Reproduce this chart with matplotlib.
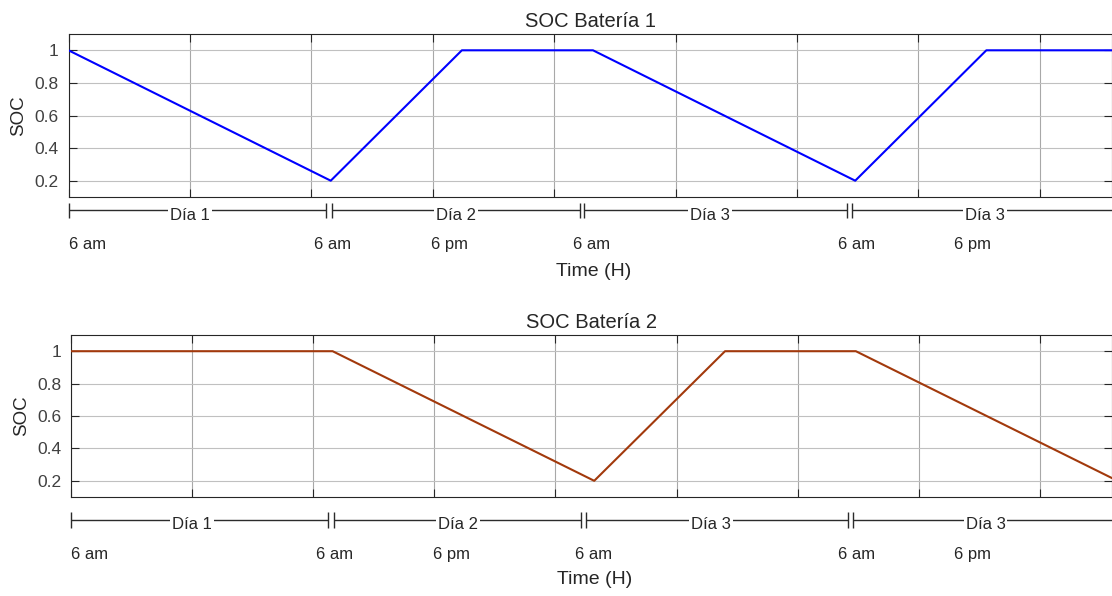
import numpy as np
import matplotlib
matplotlib.use("Agg")
import matplotlib.pyplot as plt
from matplotlib.transforms import blended_transform_factory

plt.rcParams['font.family'] = ['Liberation Sans', 'DejaVu Sans']

# State of charge profiles, time in hours counted from the first 6 am
time_b1 = [0, 24, 36, 48, 72, 84, 96]
soc_b1 = [1.0, 0.2, 1.0, 1.0, 0.2, 1.0, 1.0]
time_b2 = [0, 24, 48, 60, 72, 96]
soc_b2 = [1.0, 1.0, 0.2, 1.0, 1.0, 0.2]

titles = ["SOC Batería 1", "SOC Batería 2"]
line_colors = ["#0000ff", "#a2390c"]

# Day timeline drawn under each panel
day_names = ["Día 1", "Día 2", "Día 3", "Día 3"]
day_spans = [(0.0, 23.55), (24.1, 46.8), (47.2, 71.25), (71.7, 96.0)]
day_name_x = [11.1, 35.5, 58.7, 83.9]
clock_labels = ["6 am", "6 am", "6 pm", "6 am", "6 am", "6 pm"]
clock_x = [1.7, 24.2, 34.9, 47.9, 72.1, 82.7]

yticks = [0.2, 0.4, 0.6, 0.8, 1.0]
ytick_labels = ["0.2", "0.4", "0.6", "0.8", "1"]

X_MAX = 95.5
GRID_STEP = 100 / 9
TEXT = "#262626"

fig = plt.figure(figsize=(11.12, 5.96), dpi=100)
W, H = 1112, 596
ax_boxes = [
    [68.5 / W, 1 - 197 / H, (W - 68.5) / W, 163 / H],
    [71 / W, 1 - 497 / H, (W - 71) / W, 162 / H],
]
# timeline offsets (axes fraction): line, day text, clock text, axis label, tick half height
timeline_y = [
    (-0.080, -0.112, -0.294, -0.454, 0.046),
    (-0.142, -0.172, -0.352, -0.512, 0.049),
]


def draw_timeline(ax, y_line, y_text, y_clock, y_label, half):
    tr = blended_transform_factory(ax.transData, ax.transAxes)
    kw = dict(color="#2b2b2b", lw=1.0, transform=tr, clip_on=False, solid_capstyle="butt")
    for (x0, x1), name, xc in zip(day_spans, day_names, day_name_x):
        ax.plot([x0, x1], [y_line, y_line], **kw)
        ends = [x0, x1] if x1 < X_MAX else [x0]
        for xe in ends:
            ax.plot([xe, xe], [y_line - half, y_line + half], **kw)
        ax.text(xc, y_text, name, ha="center", va="center", fontsize=12, color=TEXT,
                transform=tr, clip_on=False,
                bbox=dict(facecolor="white", edgecolor="none", pad=1.5))
    for xc, lab in zip(clock_x, clock_labels):
        ax.text(xc, y_clock, lab, ha="center", va="center", fontsize=12, color=TEXT,
                transform=tr, clip_on=False)
    ax.text(0.503, y_label, "Time (H)", ha="center", va="center", fontsize=14,
            color=TEXT, transform=ax.transAxes)


series = [(time_b1, soc_b1), (time_b2, soc_b2)]
for i, (t, s) in enumerate(series):
    ax = fig.add_axes(ax_boxes[i])
    ax.plot(t, s, color=line_colors[i], lw=1.5, zorder=3)
    ax.set_xlim(0, X_MAX)
    ax.set_ylim(0.1, 1.1)
    ax.set_xticks(np.arange(0, X_MAX, GRID_STEP))
    ax.set_xticklabels([])
    ax.set_yticks(yticks)
    ax.set_yticklabels(ytick_labels)
    ax.tick_params(axis="both", direction="in", length=6, width=0.8, color="#262626",
                   top=True, right=True, labelsize=12.5, labelcolor="#404040", pad=7)
    ax.xaxis.grid(True, color="#a8a8a8", lw=0.8)
    ax.yaxis.grid(True, color="#c0c0c0", lw=0.8)
    ax.set_axisbelow(True)
    for sp in ax.spines.values():
        sp.set_color("#262626")
        sp.set_linewidth(0.8)
    ax.set_title(titles[i], fontsize=14.5, color=TEXT, pad=5)
    ax.text(-0.0475, 0.5, "SOC", rotation=90, ha="center", va="center", fontsize=13.5,
            color=TEXT, transform=ax.transAxes)
    draw_timeline(ax, *timeline_y[i])

fig.savefig("out.png", dpi=100, facecolor="white")
